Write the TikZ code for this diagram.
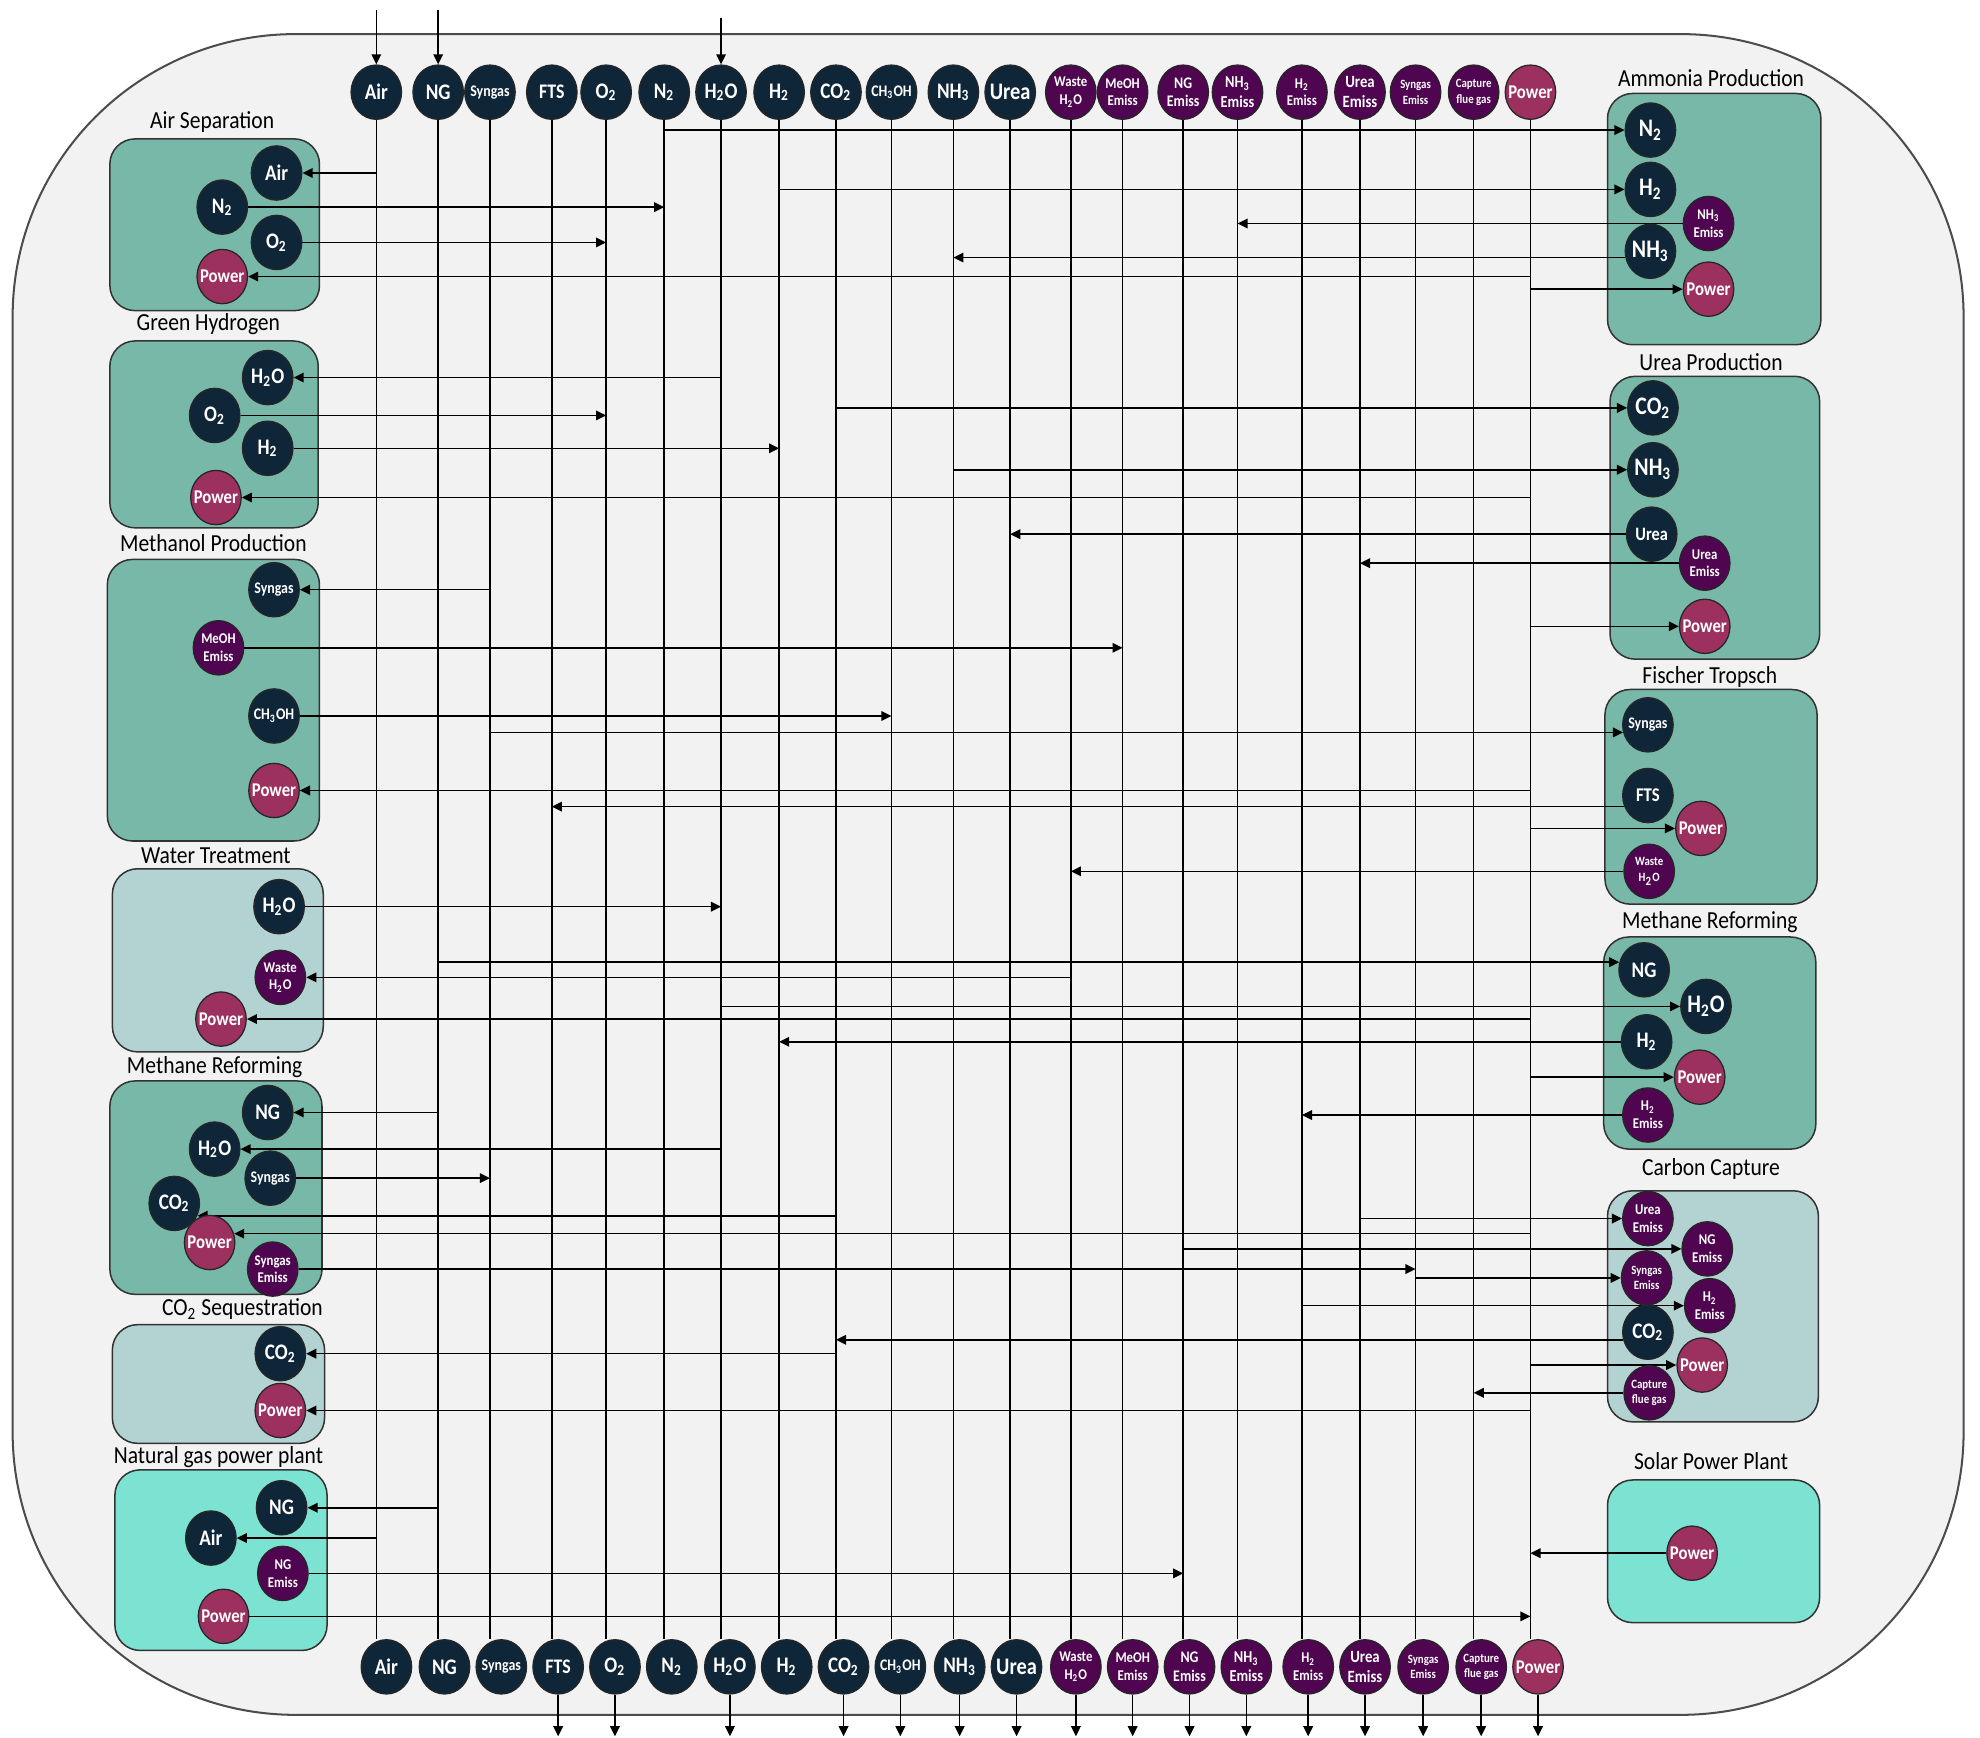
\documentclass[tikz,border=0pt]{standalone}
\usepackage{fontspec}
\setmainfont{Carlito}
\newfontfamily\nodefont[FakeStretch=0.86]{Carlito}
\newfontfamily\titlefont[FakeStretch=0.88]{Carlito}
\usetikzlibrary{shapes.geometric,arrows.meta}
\definecolor{navyc}{HTML}{0F2639}
\definecolor{purpc}{HTML}{4F0550}
\definecolor{powc}{HTML}{9C305F}
\definecolor{boxteal}{HTML}{78B8A9}
\definecolor{boxlight}{HTML}{B3D3D2}
\definecolor{boxbright}{HTML}{7CE3D2}
\definecolor{bgc}{HTML}{F2F2F2}
\newcommand\nfA{\nodefont\bfseries\fontsize{8.8}{9.5}\selectfont}
\newcommand\nfL{\nodefont\bfseries\fontsize{10}{11}\selectfont}
\newcommand\nfB{\nodefont\bfseries\fontsize{7.7}{8.5}\selectfont}
\newcommand\nfC{\nodefont\bfseries\fontsize{6.4}{7.5}\selectfont}
\newcommand\nfD{\nodefont\bfseries\fontsize{5.9}{7}\selectfont}
\newcommand\nfE{\nodefont\bfseries\fontsize{5}{6.2}\selectfont}
\pgfdeclarelayer{bg}
\pgfdeclarelayer{lines}
\pgfsetlayers{bg,lines,main}
\begin{document}
\begin{tikzpicture}[x=0.5pt,y=-0.5pt,
  nd/.style={ellipse, draw=black!85, line width=0.5pt, minimum width=20pt,
    minimum height=21.5pt, inner sep=-15pt, text=white, align=center, font=\nfA},
  nv/.style={nd, fill=navyc},
  pr/.style={nd, fill=purpc, font=\nfD},
  pw/.style={nd, fill=powc, font=\nfB},
  pbox/.style={draw=black!80, line width=0.6pt, rounded corners=10pt, inner sep=0pt},
  tealbox/.style={pbox, fill=boxteal},
  lightbox/.style={pbox, fill=boxlight},
  brightbox/.style={pbox, fill=boxbright},
  lbl/.style={font=\titlefont\fontsize{9.7}{11}\selectfont, text=black, inner sep=0pt},
  ln/.style={line width=0.6pt, draw=black},
  arr/.style={ln, -{Triangle[length=4pt,width=3.8pt]}},
  outer/.style={draw=black!70, fill=bgc, line width=0.8pt, rounded corners=112pt, inner sep=0pt}
]
\useasboundingbox (0,0) rectangle (1568,1376);

% ---------------- bus nodes (top) ----------------
\node[nv] (tAir) at (298,73) {Air};
\node[nv] (tNG) at (347,73) {NG};
\node[nv, font=\nfC] (tSyn) at (388,73) {Syngas};
\node[nv, font=\nodefont\bfseries\fontsize{8.2}{9}\selectfont] (tFTS) at (437,73) {FTS};
\node[nv] (tO2) at (480,73) {O\textsubscript{2}};
\node[nv] (tN2) at (526,73) {N\textsubscript{2}};
\node[nv] (tH2O) at (571,73) {H\textsubscript{2}O};
\node[nv] (tH2) at (617,73) {H\textsubscript{2}};
\node[nv] (tCO2) at (662,73) {CO\textsubscript{2}};
\node[nv, font=\nfC] (tMeOH) at (706,73) {CH\textsubscript{3}OH};
\node[nv] (tNH3) at (755,73) {NH\textsubscript{3}};
\node[nv, font=\nodefont\bfseries\fontsize{9.4}{10}\selectfont] (tUrea) at (800,73) {Urea};
\node[pr] (tWaste) at (848,73) {Waste\\H\textsubscript{2}O};
\node[pr] (tMeE) at (889,73) {MeOH\\Emiss};
\node[pr, font=\nodefont\bfseries\fontsize{6.4}{7.4}\selectfont] (tNGE) at (937,73) {NG\\Emiss};
\node[pr, font=\nodefont\bfseries\fontsize{6.6}{7.6}\selectfont] (tNH3E) at (980,73) {NH\textsubscript{3}\\Emiss};
\node[pr] (tH2E) at (1031,73) {H\textsubscript{2}\\Emiss};
\node[pr, font=\nodefont\bfseries\fontsize{6.8}{7.8}\selectfont] (tUrE) at (1077,73) {Urea\\Emiss};
\node[pr, font=\nfE] (tSynE) at (1121,73) {Syngas\\Emiss};
\node[pr, font=\nfE] (tCap) at (1167,73) {Capture\\flue gas};
\node[pw] (tPow) at (1212,73) {Power};

% ---------------- bus nodes (bottom) ----------------
\node[nv] (bAir) at (306,1320) {Air};
\node[nv] (bNG) at (352,1320) {NG};
\node[nv, font=\nfC] (bSyn) at (397,1320) {Syngas};
\node[nv, font=\nodefont\bfseries\fontsize{8.2}{9}\selectfont] (bFTS) at (442,1320) {FTS};
\node[nv] (bO2) at (487,1320) {O\textsubscript{2}};
\node[nv] (bN2) at (532,1320) {N\textsubscript{2}};
\node[nv] (bH2O) at (578,1320) {H\textsubscript{2}O};
\node[nv] (bH2) at (623,1320) {H\textsubscript{2}};
\node[nv] (bCO2) at (668,1320) {CO\textsubscript{2}};
\node[nv, font=\nfC] (bMeOH) at (713,1320) {CH\textsubscript{3}OH};
\node[nv] (bNH3) at (760,1320) {NH\textsubscript{3}};
\node[nv, font=\nodefont\bfseries\fontsize{9.4}{10}\selectfont] (bUrea) at (805,1320) {Urea};
\node[pr] (bWaste) at (852,1320) {Waste\\H\textsubscript{2}O};
\node[pr] (bMeE) at (897,1320) {MeOH\\Emiss};
\node[pr, font=\nodefont\bfseries\fontsize{6.4}{7.4}\selectfont] (bNGE) at (942,1320) {NG\\Emiss};
\node[pr, font=\nodefont\bfseries\fontsize{6.6}{7.6}\selectfont] (bNH3E) at (987,1320) {NH\textsubscript{3}\\Emiss};
\node[pr] (bH2E) at (1036,1320) {H\textsubscript{2}\\Emiss};
\node[pr, font=\nodefont\bfseries\fontsize{6.8}{7.8}\selectfont] (bUrE) at (1081,1320) {Urea\\Emiss};
\node[pr, font=\nfE] (bSynE) at (1127,1320) {Syngas\\Emiss};
\node[pr, font=\nfE] (bCap) at (1173,1320) {Capture\\flue gas};
\node[pw] (bPow) at (1218,1320) {Power};

% ---------------- left processes ----------------
% Air Separation
\node[nv] (asAir) at (219,137) {Air};
\node[nv] (asN2) at (176,164) {N\textsubscript{2}};
\node[nv] (asO2) at (219,192) {O\textsubscript{2}};
\node[pw] (asPow) at (176,219) {Power};
% Green Hydrogen
\node[nv] (ghH2O) at (212,299) {H\textsubscript{2}O};
\node[nv] (ghO2) at (170,329) {O\textsubscript{2}};
\node[nv] (ghH2) at (212,355) {H\textsubscript{2}};
\node[pw] (ghPow) at (171,394) {Power};
% Methanol Production
\node[nv, font=\nfC] (mpSyn) at (217,467) {Syngas};
\node[pr] (mpMeE) at (173,513) {MeOH\\Emiss};
\node[nv, font=\nfC] (mpMeOH) at (217,567) {CH\textsubscript{3}OH};
\node[pw] (mpPow) at (217,626) {Power};
% Water Treatment
\node[nv] (wtH2O) at (221,718) {H\textsubscript{2}O};
\node[pr] (wtWaste) at (222,774) {Waste\\H\textsubscript{2}O};
\node[pw] (wtPow) at (175,807) {Power};
% Methane Reforming (left)
\node[nv] (mlNG) at (212,881) {NG};
\node[nv] (mlH2O) at (170,910) {H\textsubscript{2}O};
\node[nv, font=\nfC] (mlSyn) at (214,933) {Syngas};
\node[nv] (mlCO2) at (138,953) {CO\textsubscript{2}};
\node[pw] (mlPow) at (166,984) {Power};
\node[pr] (mlSynE) at (216,1005) {Syngas\\Emiss};
% CO2 Sequestration
\node[nv] (csCO2) at (222,1072) {CO\textsubscript{2}};
\node[pw] (csPow) at (222,1117) {Power};
% Natural gas power plant
\node[nv] (npNG) at (223,1194) {NG};
\node[nv] (npAir) at (167,1218) {Air};
\node[pr] (npNGE) at (224,1246) {NG\\Emiss};
\node[pw] (npPow) at (177,1280) {Power};

% ---------------- right processes ----------------
% Ammonia Production
\node[nv, font=\nfL] (apN2) at (1307,103) {N\textsubscript{2}};
\node[nv, font=\nfL] (apH2) at (1307,150) {H\textsubscript{2}};
\node[pr] (apNH3E) at (1353,177) {NH\textsubscript{3}\\Emiss};
\node[nv, font=\nfL] (apNH3) at (1307,199) {NH\textsubscript{3}};
\node[pw] (apPow) at (1353,229) {Power};
% Urea Production
\node[nv, font=\nfL] (upCO2) at (1309,323) {CO\textsubscript{2}};
\node[nv, font=\nfL] (upNH3) at (1309,372) {NH\textsubscript{3}};
\node[nv, font=\nodefont\bfseries\fontsize{7.5}{8.5}\selectfont] (upUrea) at (1308,423) {Urea};
\node[pr] (upUrE) at (1350,446) {Urea\\Emiss};
\node[pw] (upPow) at (1350,496) {Power};
% Fischer Tropsch
\node[nv, font=\nfC] (ftSyn) at (1305,574) {Syngas};
\node[nv, font=\nodefont\bfseries\fontsize{7.7}{8.5}\selectfont] (ftFTS) at (1305,630) {FTS};
\node[pw] (ftPow) at (1347,656) {Power};
\node[pr, font=\nfE] (ftWaste) at (1306,690) {Waste\\H\textsubscript{2}O};
% Methane Reforming (right)
\node[nv] (mrNG) at (1302,768) {NG};
\node[nv, font=\nfL] (mrH2O) at (1351,797) {H\textsubscript{2}O};
\node[nv] (mrH2) at (1304,825) {H\textsubscript{2}};
\node[pw] (mrPow) at (1346,853) {Power};
\node[pr] (mrH2E) at (1305,883) {H\textsubscript{2}\\Emiss};
% Carbon Capture
\node[pr] (ccUrE) at (1305,965) {Urea\\Emiss};
\node[pr] (ccNGE) at (1352,989) {NG\\Emiss};
\node[pr, font=\nfE] (ccSynE) at (1304,1012) {Syngas\\Emiss};
\node[pr] (ccH2E) at (1354,1034) {H\textsubscript{2}\\Emiss};
\node[nv] (ccCO2) at (1305,1055) {CO\textsubscript{2}};
\node[pw] (ccPow) at (1348,1081) {Power};
\node[pr, font=\nfE] (ccCap) at (1306,1103) {Capture\\flue gas};
% Solar Power Plant
\node[pw] (spPow) at (1340,1230) {Power};

% ---------------- background: frame, boxes, titles ----------------
\begin{pgfonlayer}{bg}
\node[outer, minimum width=772.5pt, minimum height=665.5pt] (frame) at (782.5,692.5) {};
\node[tealbox, minimum width=83pt, minimum height=68pt] (boxAS) at (170,178) {};
\node[tealbox, minimum width=82.5pt, minimum height=74pt] (boxGH) at (169.5,344) {};
\node[tealbox, minimum width=84pt, minimum height=111.5pt] (boxMP) at (169,554.5) {};
\node[lightbox, minimum width=83.5pt, minimum height=72.5pt] (boxWT) at (172.5,760.5) {};
\node[tealbox, minimum width=84pt, minimum height=84.5pt] (boxML) at (171,940.5) {};
\node[lightbox, minimum width=84pt, minimum height=47pt] (boxCS) at (173,1096) {};
\node[brightbox, minimum width=84pt, minimum height=71.5pt] (boxNP) at (175,1235.5) {};
\node[tealbox, minimum width=84.5pt, minimum height=99.5pt] (boxAP) at (1357.5,173.5) {};
\node[tealbox, minimum width=83pt, minimum height=112pt] (boxUP) at (1358,410) {};
\node[tealbox, minimum width=84pt, minimum height=85pt] (boxFT) at (1355,631) {};
\node[tealbox, minimum width=84pt, minimum height=84pt] (boxMR) at (1354,826) {};
\node[lightbox, minimum width=83.5pt, minimum height=91.5pt] (boxCC) at (1356.5,1034.5) {};
\node[brightbox, minimum width=84pt, minimum height=56.5pt] (boxSP) at (1357,1228.5) {};
\node[lbl] (lAS) at (168,97) {Air Separation};
\node[lbl] (lGH) at (165,257) {Green Hydrogen};
\node[lbl] (lMP) at (169,430) {Methanol Production};
\node[lbl] (lWT) at (171,678) {Water Treatment};
\node[lbl] (lML) at (170,845) {Methane Reforming};
\node[lbl] (lCS) at (192,1037) {CO\textsubscript{2} Sequestration};
\node[lbl] (lNP) at (173,1154) {Natural gas power plant};
\node[lbl] (lAP) at (1355,62) {Ammonia Production};
\node[lbl] (lUP) at (1355,287) {Urea Production};
\node[lbl] (lFT) at (1354,536) {Fischer Tropsch};
\node[lbl] (lMR) at (1354,730) {Methane Reforming};
\node[lbl] (lCC) at (1355,926) {Carbon Capture};
\node[lbl] (lSP) at (1355,1157) {Solar Power Plant};
\end{pgfonlayer}

% ---------------- connectors ----------------
\begin{pgfonlayer}{lines}
% vertical buses
\foreach \n in {Air,NG,Syn,FTS,O2,N2,H2O,H2,CO2,MeOH,NH3,Urea,Waste,MeE,NGE,NH3E,H2E,UrE,SynE,Cap,Pow}
  {\draw[ln] (t\n.south) -- (t\n.south |- b\n.north);}
% external inputs
\coordinate (iAir) at (298,8);
\coordinate (iNG) at (347,8);
\coordinate (iH2O) at (571,14);
\draw[arr] (iAir) -- (tAir.north);
\draw[arr] (iNG) -- (tNG.north);
\draw[arr] (iH2O) -- (tH2O.north);
% external outputs
\foreach \n in {FTS,O2,H2O,CO2,MeOH,NH3,Urea,Waste,MeE,NGE,NH3E,H2E,UrE,SynE,Cap,Pow}
  {\coordinate (o\n) at (b\n.south |- 0,1375);
   \draw[arr] (b\n.south) -- (o\n);}
% Air Separation
\draw[arr] (asAir.east -| tAir) -- (asAir.east);
\draw[arr] (asN2.east) -- (asN2.east -| tN2);
\draw[arr] (asO2.east) -- (asO2.east -| tO2);
\draw[arr] (asPow.east -| tPow) -- (asPow.east);
% Green Hydrogen
\draw[arr] (ghH2O.east -| tH2O) -- (ghH2O.east);
\draw[arr] (ghO2.east) -- (ghO2.east -| tO2);
\draw[arr] (ghH2.east) -- (ghH2.east -| tH2);
\draw[arr] (ghPow.east -| tPow) -- (ghPow.east);
% Methanol Production
\draw[arr] (mpSyn.east -| tSyn) -- (mpSyn.east);
\draw[arr] (mpMeE.east) -- (mpMeE.east -| tMeE);
\draw[arr] (mpMeOH.east) -- (mpMeOH.east -| tMeOH);
\draw[arr] (mpPow.east -| tPow) -- (mpPow.east);
% Water Treatment
\draw[arr] (wtH2O.east) -- (wtH2O.east -| tH2O);
\draw[arr] (wtWaste.east -| tWaste) -- (wtWaste.east);
\draw[arr] (wtPow.east -| tPow) -- (wtPow.east);
% Methane Reforming (left)
\draw[arr] (mlNG.east -| tNG) -- (mlNG.east);
\draw[arr] (mlH2O.east -| tH2O) -- (mlH2O.east);
\draw[arr] (mlSyn.east) -- (mlSyn.east -| tSyn);
\draw[arr] (mlCO2.-28 -| tCO2) -- (mlCO2.-28);
\draw[arr] (mlPow.20 -| tPow) -- (mlPow.20);
\draw[arr] (mlSynE.east) -- (mlSynE.east -| tSynE);
% CO2 Sequestration
\draw[arr] (csCO2.east -| tCO2) -- (csCO2.east);
\draw[arr] (csPow.east -| tPow) -- (csPow.east);
% Natural gas power plant
\draw[arr] (npNG.east -| tNG) -- (npNG.east);
\draw[arr] (npAir.east -| tAir) -- (npAir.east);
\draw[arr] (npNGE.east) -- (npNGE.east -| tNGE);
\draw[arr] (npPow.east) -- (npPow.east -| tPow);
% Ammonia Production
\draw[arr] (apN2.west -| tN2) -- (apN2.west);
\draw[arr] (apH2.west -| tH2) -- (apH2.west);
\draw[arr] (apNH3E.west) -- (apNH3E.west -| tNH3E);
\draw[arr] (apNH3.194) -- (apNH3.194 -| tNH3);
\draw[arr] (apPow.west -| tPow) -- (apPow.west);
% Urea Production
\draw[arr] (upCO2.west -| tCO2) -- (upCO2.west);
\draw[arr] (upNH3.west -| tNH3) -- (upNH3.west);
\draw[arr] (upUrea.west) -- (upUrea.west -| tUrea);
\draw[arr] (upUrE.west) -- (upUrE.west -| tUrE);
\draw[arr] (upPow.west -| tPow) -- (upPow.west);
% Fischer Tropsch
\draw[arr] (ftSyn.197 -| tSyn) -- (ftSyn.197);
\draw[arr] (ftFTS.205) -- (ftFTS.205 -| tFTS);
\draw[arr] (ftPow.west -| tPow) -- (ftPow.west);
\draw[arr] (ftWaste.west) -- (ftWaste.west -| tWaste);
% Methane Reforming (right)
\draw[arr] (mrNG.163 -| tNG) -- (mrNG.163);
\draw[arr] (mrH2O.west -| tH2O) -- (mrH2O.west);
\draw[arr] (mrH2.west) -- (mrH2.west -| tH2);
\draw[arr] (mrPow.west -| tPow) -- (mrPow.west);
\draw[arr] (mrH2E.west) -- (mrH2E.west -| tH2E);
% Carbon Capture
\draw[arr] (ccUrE.west -| tUrE) -- (ccUrE.west);
\draw[arr] (ccNGE.west -| tNGE) -- (ccNGE.west);
\draw[arr] (ccSynE.west -| tSynE) -- (ccSynE.west);
\draw[arr] (ccH2E.west -| tH2E) -- (ccH2E.west);
\draw[arr] (ccCO2.197) -- (ccCO2.197 -| tCO2);
\draw[arr] (ccPow.west -| tPow) -- (ccPow.west);
\draw[arr] (ccCap.west) -- (ccCap.west -| tCap);
% Solar Power Plant
\draw[arr] (spPow.west) -- (spPow.west -| tPow);
\end{pgfonlayer}
\end{tikzpicture}
\end{document}
